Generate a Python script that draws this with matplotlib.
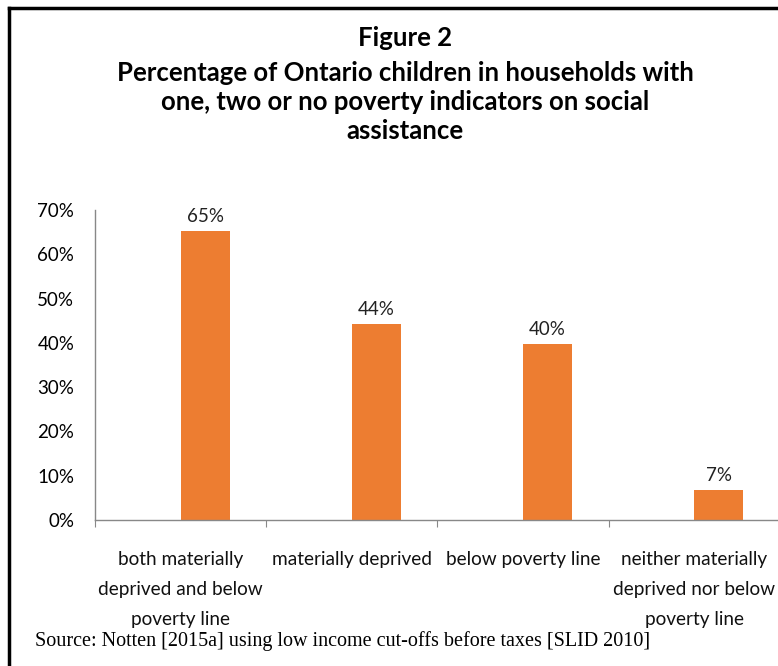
import matplotlib
matplotlib.use("Agg")
import matplotlib.pyplot as plt
from matplotlib.lines import Line2D
import numpy as np

categories = [
    "both materially\ndeprived and below\npoverty line",
    "materially deprived",
    "below poverty line",
    "neither materially\ndeprived nor below\npoverty line",
]
values = [65.2, 44.2, 39.7, 6.8]
value_labels = ["65%", "44%", "40%", "7%"]
y_ticks = [0, 10, 20, 30, 40, 50, 60, 70]

figure_label = "Figure 2"
title = ("Percentage of Ontario children in households with\n"
         "one, two or no poverty indicators on social\nassistance")
source = "Source: Notten [2015a] using low income cut-offs before taxes [SLID 2010]"

BAR_COLOR = "#ED7D31"
AXIS_COLOR = "#888888"
W, H = 778, 666

fig = plt.figure(figsize=(W / 100, H / 100), dpi=100)

# plot area in pixel terms: x 95..780, y 210..520
ax = fig.add_axes([95 / W, 1 - 520 / H, (780 - 95) / W, (520 - 210) / H])

x = np.arange(len(categories))
ax.bar(x, values, width=0.286, align="edge", color=BAR_COLOR)
for xi, v, lab in zip(x, values, value_labels):
    ax.text(xi + 0.143, v + 1.4, lab, ha="center", va="bottom",
            fontsize=13.5, family="Lato", color="#222222")

ax.set_xlim(-0.5, len(categories) - 0.5)
ax.set_ylim(0, 70)
ax.set_yticks(y_ticks)
ax.set_yticklabels([f"{t}%" for t in y_ticks], family="Lato", fontsize=13.5)
ax.tick_params(axis="y", length=0, pad=15)

# category labels centred, boundary ticks between categories
ax.set_xticks(np.arange(-0.5, len(categories), 1.0))
ax.set_xticklabels([])
ax.tick_params(axis="x", length=5, color=AXIS_COLOR, direction="out")
for xi, cat in zip(x, categories):
    ax.text(xi, -7.0, cat, ha="center", va="top", fontsize=13.7,
            family="Lato", linespacing=1.92, color="#111111")

for side in ["top", "right"]:
    ax.spines[side].set_visible(False)
for side in ["left", "bottom"]:
    ax.spines[side].set_color(AXIS_COLOR)
    ax.spines[side].set_linewidth(1.0)

fig.text(405 / W, 1 - 38 / H, figure_label, ha="center", va="center",
         fontsize=18.5, fontweight="bold", family="Lato")
fig.text(405 / W, 1 - 61 / H, title, ha="center", va="top", fontsize=18.5,
         fontweight="bold", family="Lato", linespacing=1.26)
fig.text(35 / W, 1 - 641 / H, source, ha="left", va="center", fontsize=14.5,
         family="Liberation Serif")

# frame: left and top edges only, the rest is cut off
fig.add_artist(Line2D([9 / W, 9 / W], [0, 1 - 8 / H], transform=fig.transFigure,
                      color="black", linewidth=2.5))
fig.add_artist(Line2D([9 / W, 1], [1 - 8 / H, 1 - 8 / H], transform=fig.transFigure,
                      color="black", linewidth=2.5))

fig.savefig("out.png", dpi=100)
